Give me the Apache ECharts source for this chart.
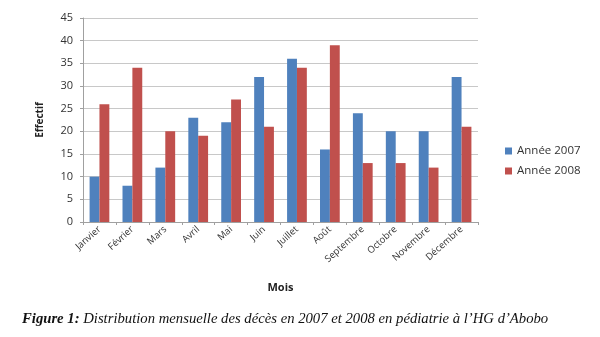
<!DOCTYPE html>
<html><head><meta charset="utf-8">
<script src="https://cdn.jsdelivr.net/npm/echarts@6/dist/echarts.min.js"></script>
<style>html,body{margin:0;padding:0;background:#fff}#c{width:600px;height:337px}</style>
</head><body><div id="c"></div>
<script>
const categories = ['Janvier','Février','Mars','Avril','Mai','Juin','Juillet','Août','Septembre','Octobre','Novembre','Décembre'];
const annee2007 = [10, 8, 12, 23, 22, 32, 36, 16, 24, 20, 20, 32];
const annee2008 = [26, 34, 20, 19, 27, 21, 34, 39, 13, 13, 12, 21];
const seriesNames = ['Année 2007', 'Année 2008'];
const yTicks = {min: 0, max: 45, interval: 5};

const chart = echarts.init(document.getElementById('c'), null, {renderer: 'canvas'});
chart.setOption({
  animation: false,
  textStyle: {fontFamily: 'Open Sans'},
  grid: {left: 83, right: 122, top: 18, bottom: 115},
  legend: {
    orient: 'vertical', left: 500, top: 140, itemWidth: 7, itemHeight: 7, itemGap: 8,
    icon: 'rect', textStyle: {fontSize: 11.5, color: '#333', fontFamily: 'Open Sans'},
    data: seriesNames
  },
  xAxis: {
    type: 'category', data: categories,
    name: 'Mois', nameLocation: 'middle', nameGap: 60,
    nameTextStyle: {fontSize: 11, fontWeight: 'bold', color: '#222'},
    axisLine: {lineStyle: {color: '#a0a0a0'}},
    axisTick: {show: true, length: 3, lineStyle: {color: '#a0a0a0'}},
    axisLabel: {rotate: 42, fontSize: 9.5, color: '#333', interval: 0, margin: 6}
  },
  yAxis: {
    type: 'value', min: yTicks.min, max: yTicks.max, interval: yTicks.interval,
    name: 'Effectif', nameLocation: 'middle', nameGap: 38, nameRotate: 90,
    nameTextStyle: {fontSize: 10, fontWeight: 'bold', color: '#222'},
    axisLine: {show: true, lineStyle: {color: '#a0a0a0'}},
    axisTick: {show: true, length: 3, lineStyle: {color: '#a0a0a0'}},
    axisLabel: {fontSize: 11, color: '#333', margin: 10},
    splitLine: {lineStyle: {color: '#c8c8c8'}}
  },
  series: [
    {name: seriesNames[0], type: 'bar', data: annee2007, itemStyle: {color: '#4F81BD'}, barGap: '0%', barCategoryGap: '40%'},
    {name: seriesNames[1], type: 'bar', data: annee2008, itemStyle: {color: '#C0504D'}}
  ],
  graphic: [{
    type: 'text', left: 22, top: 312,
    style: {
      text: '{b|Figure 1:} Distribution mensuelle des décès en 2007 et 2008 en pédiatrie à l’HG d’Abobo',
      font: 'italic 14.7px "Liberation Serif"', fill: '#111',
      rich: {b: {fontWeight: 'bold', fontStyle: 'italic', fontSize: 14.7, fontFamily: 'Liberation Serif', fill: '#111'}}
    }
  }]
});
</script></body></html>
